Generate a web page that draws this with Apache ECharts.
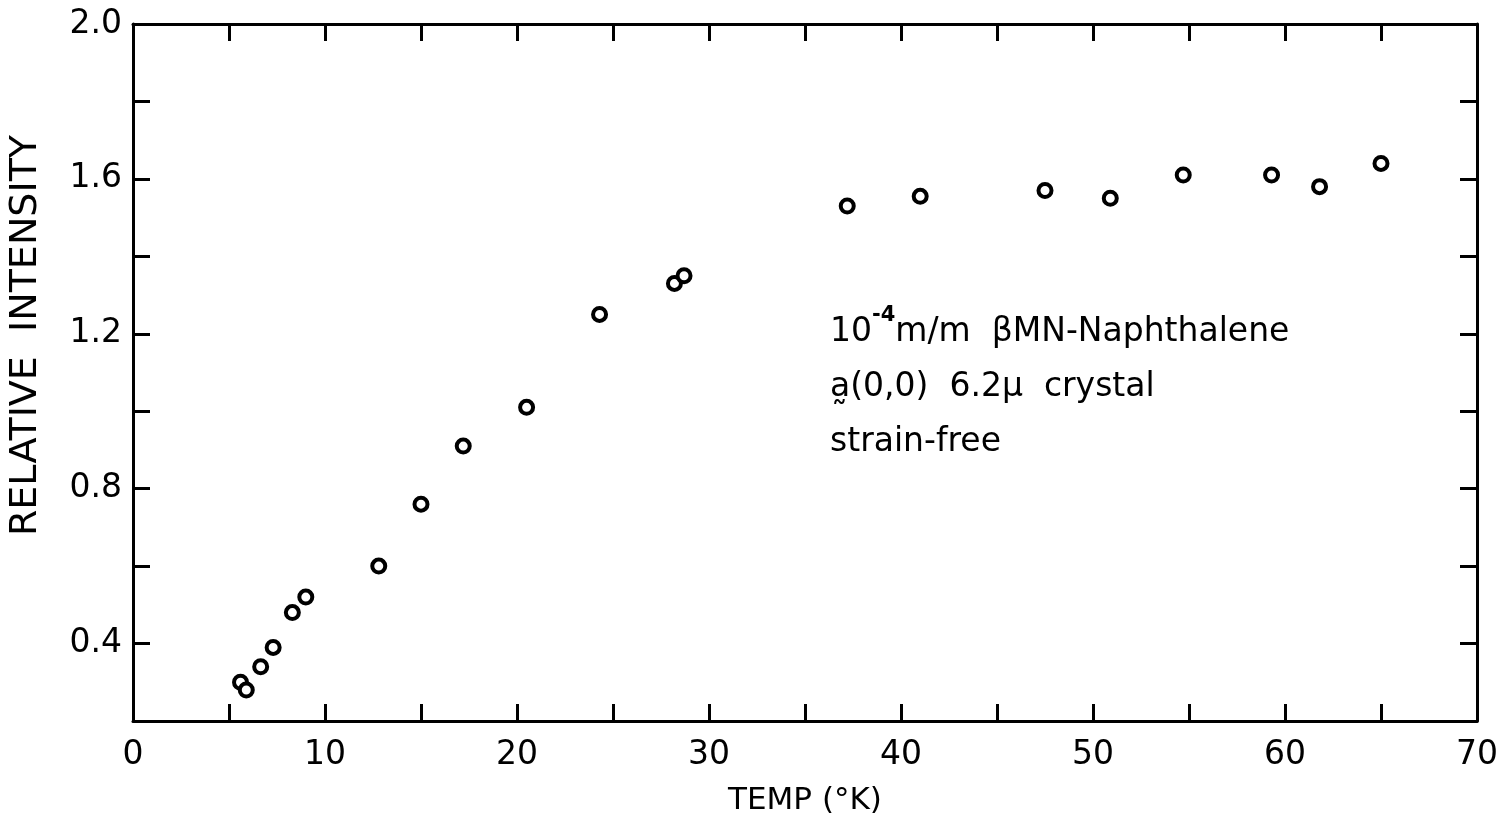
<!DOCTYPE html>
<html>
<head>
<meta charset="utf-8">
<script src="https://cdn.jsdelivr.net/npm/echarts@6/dist/echarts.min.js"></script>
<style>
html,body{margin:0;padding:0;background:#fff;}
#chart{width:1503px;height:838px;}
</style>
</head>
<body>
<div id="chart"></div>
<script>
// Data
const temps = [5.6, 5.9, 6.65, 7.3, 8.3, 9.0, 12.8, 15.0, 17.2, 20.5, 24.3, 28.2, 28.7, 37.2, 41.0, 47.5, 50.9, 54.7, 59.3, 61.8, 65.0];
const intensity = [0.30, 0.28, 0.34, 0.39, 0.48, 0.52, 0.60, 0.76, 0.91, 1.01, 1.25, 1.33, 1.35, 1.53, 1.555, 1.57, 1.55, 1.61, 1.61, 1.58, 1.64];
const xTickLabels = ['0', '10', '20', '30', '40', '50', '60', '70'];
const yTickLabels = ['0.4', '0.8', '1.2', '1.6', '2.0'];
const xTitle = 'TEMP (°K)';
const yTitle = 'RELATIVE  INTENSITY';

const FONT = 'DejaVu Sans';
const INK = '#000';
const points = temps.map((t, i) => [t, intensity[i]]);

const chart = echarts.init(document.getElementById('chart'), null, {renderer: 'canvas'});
const axisLine = {show: true, onZero: false, lineStyle: {color: INK, width: 3}};
const tick = {show: true, inside: true, length: 17, lineStyle: {color: INK, width: 3}};

chart.setOption({
  backgroundColor: '#fff',
  animation: false,
  grid: {left: 133, right: 26, top: 24, bottom: 117, containLabel: false, outerBoundsMode: 'none'},
  xAxis: [{
    type: 'value', min: 0, max: 70, interval: 5, position: 'bottom',
    axisLine, axisTick: tick, splitLine: {show: false},
    axisLabel: {
      margin: 18, color: INK, fontFamily: FONT, fontSize: 33,
      formatter: v => { const s = String(Math.round(v)); return xTickLabels.includes(s) && Math.round(v) % 10 === 0 ? s : ''; }
    },
    name: xTitle, nameLocation: 'middle', nameGap: 64,
    nameTextStyle: {color: INK, fontFamily: FONT, fontSize: 31}
  }, {
    type: 'value', min: 0, max: 70, interval: 5, position: 'top',
    axisLine, axisTick: tick, axisLabel: {show: false}, splitLine: {show: false}
  }],
  yAxis: [{
    type: 'value', min: 0.2, max: 2.0, interval: 0.2, position: 'left',
    axisLine, axisTick: tick, splitLine: {show: false},
    axisLabel: {
      margin: 11, color: INK, fontFamily: FONT, fontSize: 33,
      formatter: v => { const s = v.toFixed(1); return yTickLabels.includes(s) ? s : ''; }
    },
    name: yTitle, nameLocation: 'middle', nameGap: 88,
    nameTextStyle: {color: INK, fontFamily: FONT, fontSize: 38, padding: [0, 0, 0, 74]}
  }, {
    type: 'value', min: 0.2, max: 2.0, interval: 0.2, position: 'right',
    axisLine, axisTick: tick, axisLabel: {show: false}, splitLine: {show: false}
  }],
  series: [{
    type: 'scatter', xAxisIndex: 0, yAxisIndex: 0,
    data: points, symbol: 'circle', symbolSize: 13,
    itemStyle: {color: '#fff', borderColor: INK, borderWidth: 4, opacity: 1}
  }],
  graphic: [{
    type: 'text', left: 830, top: 305,
    style: {
      text: '{n|10}{sup|-4}{n|m/m  βMN-Naphthalene}\n{n|a\u0330(0,0)  6.2μ  crystal}\n{n|strain-free}',
      fill: INK, font: '33px ' + FONT, lineHeight: 55,
      rich: {
        n: {fontFamily: FONT, fontSize: 33, fill: INK, lineHeight: 55},
        sup: {fontFamily: FONT, fontSize: 21, fontWeight: 'bold', fill: INK, verticalAlign: 'top', padding: [0, 0, 20, 0], lineHeight: 55}
      }
    }
  }]
});
</script>
</body>
</html>
